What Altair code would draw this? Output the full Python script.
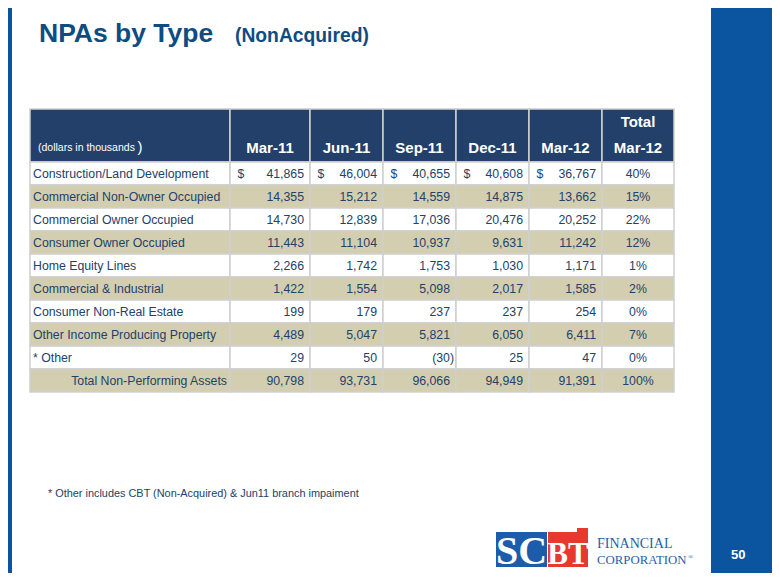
import altair as alt
import pandas as pd

# ---------------- data ----------------
categories = [
    "Construction/Land Development",
    "Commercial Non-Owner Occupied",
    "Commercial Owner Occupied",
    "Consumer Owner Occupied",
    "Home Equity Lines",
    "Commercial & Industrial",
    "Consumer Non-Real Estate",
    "Other Income Producing Property",
    "* Other",
    "Total Non-Performing Assets",
]
periods = ["Mar-11", "Jun-11", "Sep-11", "Dec-11", "Mar-12"]
mar11 = [41865, 14355, 14730, 11443, 2266, 1422, 199, 4489, 29, 90798]
jun11 = [46004, 15212, 12839, 11104, 1742, 1554, 179, 5047, 50, 93731]
sep11 = [40655, 14559, 17036, 10937, 1753, 5098, 237, 5821, -30, 96066]
dec11 = [40608, 14875, 20476, 9631, 1030, 2017, 237, 6050, 25, 94949]
mar12 = [36767, 13662, 20252, 11242, 1171, 1585, 254, 6411, 47, 91391]
pct_total = [40, 15, 22, 12, 1, 2, 0, 7, 0, 100]

title = "NPAs by Type"
subtitle = "(NonAcquired)"
unit_note = "(dollars in thousands"
footnote = "* Other includes CBT (Non-Acquired) & Jun11 branch impaiment"
page_no = "50"

# ---------------- layout (pixel frame of the slide) ----------------
W, H = 764, 565
col_edges = [30, 230, 310, 383, 456, 529, 602, 674]
head_top, head_bot, row_h = 109, 162, 23
NAVY = "#23406A"
TAN = "#D3CEAF"
TXT = "#22426A"
PANEL = "#0B55A0"

series = [mar11, jun11, sep11, dec11, mar12]

# cells
cells = []
ncol = len(col_edges) - 1
for c in range(ncol):
    cells.append(dict(x=col_edges[c], x2=col_edges[c + 1], y=head_top, y2=head_bot, fill=NAVY))
for r in range(len(categories)):
    top = head_bot + r * row_h
    fill = TAN if r % 2 == 1 else "#FFFFFF"
    for c in range(ncol):
        cells.append(dict(x=col_edges[c], x2=col_edges[c + 1], y=top, y2=top + row_h, fill=fill))
cells_df = pd.DataFrame(cells)

# decorations
decor_df = pd.DataFrame([
    dict(x=0, x2=12, y=0, y2=H + 8, fill=PANEL),
    dict(x=711, x2=W + 8, y=0, y2=H + 8, fill=PANEL),
    dict(x=496, x2=547, y=532, y2=567, fill="#1D5CAA"),
    dict(x=548, x2=588, y=532, y2=567, fill="#E63A2E"),
    dict(x=577, x2=588, y=528, y2=533, fill="#E63A2E"),
])

# texts
txt_left, txt_right, txt_center, txt_bold_center, txt_bold_left = [], [], [], [], []
for r, cat in enumerate(categories):
    base = head_bot + r * row_h + 15.5
    if r == len(categories) - 1:
        txt_right.append(dict(x=col_edges[1] - 3, y=base, text=cat, size=12.3, color=TXT))
    else:
        txt_left.append(dict(x=33, y=base, text=cat, size=12.3, color=TXT))
    for c, s in enumerate(series):
        v = s[r]
        lbl = f"({abs(v):,})" if v < 0 else f"{v:,}"
        xr = col_edges[c + 2] - 6 + (4 if v < 0 else 0)
        txt_right.append(dict(x=xr, y=base, text=lbl, size=12.3, color=TXT))
        if r == 0:
            txt_left.append(dict(x=col_edges[c + 1] + 7.5, y=base, text="$", size=12.3, color=TXT))
    txt_center.append(dict(x=(col_edges[6] + col_edges[7]) / 2, y=base, text=f"{pct_total[r]}%", size=12.3, color=TXT))

for c, p in enumerate(periods):
    txt_bold_center.append(dict(x=(col_edges[c + 1] + col_edges[c + 2]) / 2, y=152.5, text=p, size=15, color="#FFFFFF"))
txt_bold_center.append(dict(x=(col_edges[6] + col_edges[7]) / 2, y=126.5, text="Total", size=15, color="#FFFFFF"))
txt_bold_center.append(dict(x=(col_edges[6] + col_edges[7]) / 2, y=152.5, text="Mar-12", size=15, color="#FFFFFF"))

txt_left.append(dict(x=38, y=150.5, text=unit_note, size=10.5, color="#FFFFFF"))
txt_left.append(dict(x=137.5, y=151.5, text=")", size=15, color="#FFFFFF"))
txt_left.append(dict(x=48, y=497, text=footnote, size=10.9, color=TXT))

txt_bold_left.append(dict(x=39, y=42, text=title, size=26.5, color="#0F4C81"))
txt_bold_left.append(dict(x=235, y=42, text=subtitle, size=19.3, color="#0F4C81"))
txt_bold_left.append(dict(x=731, y=559, text=page_no, size=13, color="#FFFFFF"))

txt_serif_bold = [
    dict(x=521.5, y=564, text="SC", size=40, color="#FFFFFF"),
    dict(x=568, y=564, text="BT", size=31, color="#FFFFFF"),
]
txt_serif = [
    dict(x=597, y=548, text="FINANCIAL", size=14, color="#1F5FA8"),
    dict(x=597, y=564, text="CORPORATION", size=12.8, color="#1F5FA8"),
    dict(x=688, y=559, text="®", size=7, color="#1F5FA8"),
]

# ---------------- chart ----------------
xs = alt.Scale(domain=[8, W + 8], nice=False, zero=False)
ys = alt.Scale(domain=[8, H + 8], nice=False, zero=False, reverse=True)


def rect_layer(df, stroke=None):
    kw = dict(strokeWidth=1.5, stroke=stroke) if stroke else dict(strokeWidth=0)
    return alt.Chart(df).mark_rect(**kw).encode(
        x=alt.X("x:Q", scale=xs, axis=None),
        x2="x2:Q",
        y=alt.Y("y:Q", scale=ys, axis=None),
        y2="y2:Q",
        color=alt.Color("fill:N", scale=None),
    )


def text_layer(rows, align, weight="normal", font="Liberation Sans"):
    df = pd.DataFrame(rows)
    return alt.Chart(df).mark_text(
        align=align, baseline="alphabetic", fontWeight=weight, font=font
    ).encode(
        x=alt.X("x:Q", scale=xs, axis=None),
        y=alt.Y("y:Q", scale=ys, axis=None),
        text="text:N",
        size=alt.Size("size:Q", scale=None),
        color=alt.Color("color:N", scale=None),
    )


chart = alt.layer(
    rect_layer(decor_df),
    rect_layer(cells_df, stroke="#CFCFCF"),
    text_layer(txt_left, "left"),
    text_layer(txt_right, "right"),
    text_layer(txt_center, "center"),
    text_layer(txt_bold_center, "center", "bold"),
    text_layer(txt_bold_left, "left", "bold"),
    text_layer(txt_serif_bold, "center", "bold", "Liberation Serif"),
    text_layer(txt_serif, "left", "normal", "Liberation Serif"),
).properties(
    width=W, height=H, padding=0, autosize=alt.AutoSizeParams(type="none"),
    background="#FFFFFF",
).configure_view(stroke=None)

chart.save("out.html", embed_options={"renderer": "svg", "actions": False})
